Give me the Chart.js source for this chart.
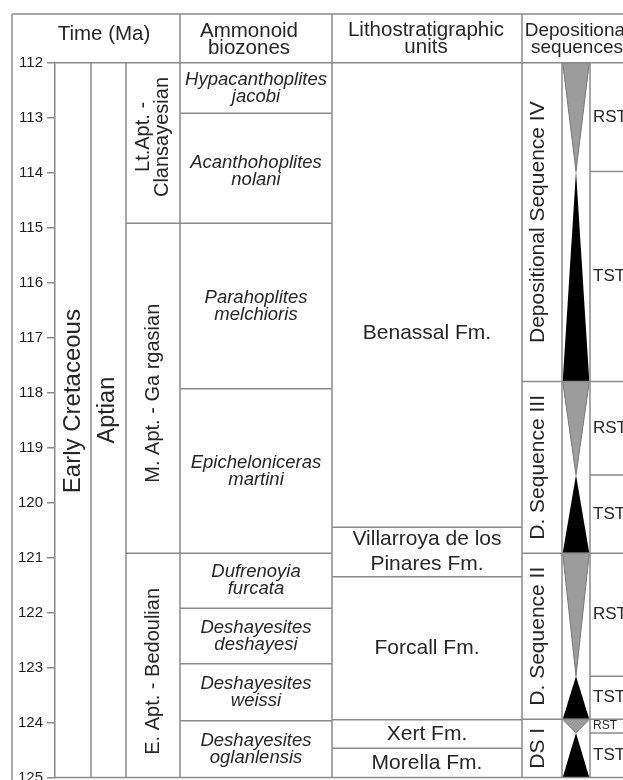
<!DOCTYPE html>
<html>
<head>
<meta charset="utf-8">
<style>
  html, body { margin: 0; padding: 0; background: #fff; }
  #wrap { width: 623px; height: 780px; position: relative; }
</style>
</head>
<body>
<div id="wrap"><canvas id="chart"></canvas></div>
<script src="https://cdn.jsdelivr.net/npm/chart.js@4.4.1/dist/chart.umd.min.js"></script>
<script>
// ---- Time axis (Ma) ----
const timeTicks = [112, 113, 114, 115, 116, 117, 118, 119, 120, 121, 122, 123, 124, 125];
const topAge = 112;

// ---- Chronostratigraphy ----
const eraName = 'Early Cretaceous';
const stageName = 'Aptian';
const substageNames = [['Lt.Apt. -', 'Clansayesian'], ['M. Apt. - Ga rgasian'], ['E. Apt. - Bedoulian']];
const substageBases = [114.92, 120.92, 125];

// ---- Ammonoid biozones ----
const biozoneNames = [
  ['Hypacanthoplites', 'jacobi'],
  ['Acanthohoplites', 'nolani'],
  ['Parahoplites', 'melchioris'],
  ['Epicheloniceras', 'martini'],
  ['Dufrenoyia', 'furcata'],
  ['Deshayesites', 'deshayesi'],
  ['Deshayesites', 'weissi'],
  ['Deshayesites', 'oglanlensis']
];
const biozoneBases = [112.92, 114.92, 117.93, 120.92, 121.92, 122.93, 123.97, 125];

// ---- Lithostratigraphic units ----
const lithoNames = [['Benassal Fm.'], ['Villarroya de los', 'Pinares Fm.'], ['Forcall Fm.'], ['Xert Fm.'], ['Morella Fm.']];
const lithoBases = [120.45, 121.35, 123.95, 124.47, 125];

// ---- Depositional sequences ----
const sequenceNames = ['Depositional Sequence IV', 'D. Sequence III', 'D. Sequence II', 'DS I'];
const sequenceBases = [117.8, 120.92, 123.94, 125];
const maxFloodingAges = [113.98, 119.5, 123.16, 124.19];   // RST above, TST below
const upperTract = ['RST', 'RST', 'RST', 'RST'];
const lowerTract = ['TST', 'TST', 'TST', 'TST'];

// ---- headers ----
const headerTime = ['Time (Ma)'];
const headerBiozones = ['Ammonoid', 'biozones'];
const headerLitho = ['Lithostratigraphic', 'units'];
const headerSeq = ['Depositional', 'sequences'];

// ---------------------------------------------------------------
const FONT = '"Liberation Sans", Arial, Helvetica, sans-serif';
const LINE = '#8a8a8a';
const FRAME = '#a8a8a8';
const INK = '#262626';
const HEADER_TOP = 14;

// column edges in x-scale units (px from the time axis)
const COL = {
  era: [0, 36], stage: [36, 71], substage: [71, 125], biozone: [125, 277],
  litho: [277, 467], seq: [467, 507], wedge: [507, 535], tract: [535, 600]
};

const tops = bases => [topAge, ...bases.slice(0, -1)];

function drawText(ctx, lines, x, y, o) {
  ctx.save();
  ctx.font = o.font;
  ctx.fillStyle = o.color || INK;
  ctx.textAlign = o.align || 'center';
  ctx.textBaseline = o.baseline || 'middle';
  ctx.translate(x, y);
  if (o.rotate) ctx.rotate(-Math.PI / 2);
  const n = lines.length, lh = o.lh || 0;
  lines.forEach((s, i) => ctx.fillText(s, 0, (i - (n - 1) / 2) * lh));
  ctx.restore();
}

function hLine(ctx, x0, x1, yv) {
  ctx.beginPath(); ctx.moveTo(x0, yv); ctx.lineTo(x1, yv); ctx.stroke();
}
function vLine(ctx, xv, y0, y1) {
  ctx.beginPath(); ctx.moveTo(xv, y0); ctx.lineTo(xv, y1); ctx.stroke();
}

const stratPlugin = {
  id: 'strat',
  afterDraw(chart) {
    const { ctx, chartArea: a, scales: { x, y } } = chart;
    const X = v => x.getPixelForValue(v);
    const Y = v => y.getPixelForValue(v);
    const right = a.right;
    const frameLeft = y.left;

    // ---- sequence wedges ----
    const wl = X(COL.wedge[0]) + 0.7, wr = X(COL.wedge[1]) - 0.7, wc = (wl + wr) / 2;
    const seqTops = tops(sequenceBases);
    sequenceBases.forEach((base, i) => {
      const t = Y(seqTops[i]), p = Y(maxFloodingAges[i]), b = Y(base);
      ctx.save();
      ctx.beginPath(); ctx.moveTo(wl, t); ctx.lineTo(wr, t); ctx.lineTo(wc, p); ctx.closePath();
      ctx.fillStyle = '#9c9c9c'; ctx.fill();
      ctx.strokeStyle = '#6e6e6e'; ctx.lineWidth = 0.9; ctx.stroke();
      ctx.beginPath(); ctx.moveTo(wc, p); ctx.lineTo(wr, b); ctx.lineTo(wl, b); ctx.closePath();
      ctx.fillStyle = '#000'; ctx.fill();
      ctx.restore();
    });

    // ---- frame & grid lines ----
    ctx.save();
    ctx.lineCap = 'butt';
    ctx.strokeStyle = FRAME; ctx.lineWidth = 2;
    hLine(ctx, frameLeft, right, HEADER_TOP);
    vLine(ctx, frameLeft, HEADER_TOP, chart.height);

    ctx.strokeStyle = LINE; ctx.lineWidth = 1.5;
    hLine(ctx, a.left, right, Y(timeTicks[0]));
    hLine(ctx, a.left, right, Y(timeTicks[timeTicks.length - 1]));
    [COL.stage[0], COL.substage[0], COL.wedge[0], COL.tract[0]].forEach(c => vLine(ctx, X(c), Y(topAge), Y(125)));
    [COL.biozone[0], COL.litho[0], COL.seq[0]].forEach(c => vLine(ctx, X(c), HEADER_TOP, Y(125)));

    const rows = (bases, c0, c1) => bases.slice(0, -1).forEach(b => hLine(ctx, X(c0), c1 === null ? right : X(c1), Y(b)));
    rows(substageBases, COL.substage[0], COL.substage[1]);
    rows(biozoneBases, COL.biozone[0], COL.biozone[1]);
    rows(lithoBases, COL.litho[0], COL.litho[1]);
    rows(sequenceBases, COL.seq[0], null);
    maxFloodingAges.forEach(m => hLine(ctx, X(COL.tract[0]), right, Y(m)));
    ctx.restore();

    // ---- headers ----
    const hf = `20.5px ${FONT}`;
    drawText(ctx, headerTime, X(49), 40, { font: hf, baseline: 'alphabetic' });
    drawText(ctx, headerBiozones, X(194), 45, { font: hf, baseline: 'alphabetic', lh: 17 });
    drawText(ctx, headerLitho, X(371), 44.5, { font: hf, baseline: 'alphabetic', lh: 17.5 });
    drawText(ctx, headerSeq, X(522), 44.5, { font: `19px ${FONT}`, baseline: 'alphabetic', lh: 17.5 });

    // ---- time columns ----
    const mid = (t, b) => (Y(t) + Y(b)) / 2;
    drawText(ctx, [eraName], X(COL.era[0]) + 25, mid(topAge, 125) - 19,
      { font: `24px ${FONT}`, rotate: true, baseline: 'alphabetic' });
    drawText(ctx, [stageName], X(COL.stage[0]) + 23, mid(topAge, 125) - 10,
      { font: `23.5px ${FONT}`, rotate: true, baseline: 'alphabetic' });
    const subTops = tops(substageBases);
    const subNudge = [-6, 5, 6];
    substageNames.forEach((n, i) => {
      drawText(ctx, n, X(COL.substage[0]) + 32.5, mid(subTops[i], substageBases[i]) + subNudge[i],
        { font: `20px ${FONT}`, rotate: true, baseline: 'alphabetic', lh: 19 });
    });

    // ---- biozones ----
    const bzTops = tops(biozoneBases);
    const bzc = X((COL.biozone[0] + COL.biozone[1]) / 2);
    biozoneNames.forEach((n, i) => {
      drawText(ctx, n, bzc, mid(bzTops[i], biozoneBases[i]) + (i === 1 ? 3 : 0),
        { font: `italic 18.5px ${FONT}`, lh: 17 });
    });

    // ---- lithostratigraphic units ----
    const lTops = tops(lithoBases);
    const lc = X((COL.litho[0] + COL.litho[1]) / 2);
    const lithoNudge = [38, 0, 0, 0, 0];
    lithoNames.forEach((n, i) => {
      drawText(ctx, n, lc, mid(lTops[i], lithoBases[i]) + lithoNudge[i],
        { font: `21px ${FONT}`, lh: 25 });
    });

    // ---- depositional sequences ----
    sequenceNames.forEach((n, i) => {
      drawText(ctx, [n], X(COL.seq[0]) + 22, mid(seqTops[i], sequenceBases[i]),
        { font: `21px ${FONT}`, rotate: true, baseline: 'alphabetic' });
      const small = (maxFloodingAges[i] - seqTops[i]) < 0.5;
      drawText(ctx, [upperTract[i]], X(COL.tract[0]) + 3, mid(seqTops[i], maxFloodingAges[i]),
        { font: `${small ? 12 : 17}px ${FONT}`, align: 'left' });
      drawText(ctx, [lowerTract[i]], X(COL.tract[0]) + 3, mid(maxFloodingAges[i], sequenceBases[i]),
        { font: `17px ${FONT}`, align: 'left' });
    });
  }
};

new Chart(document.getElementById('chart'), {
  type: 'scatter',
  data: { datasets: [] },
  options: {
    responsive: true,
    maintainAspectRatio: false,
    animation: false,
    events: [],
    layout: { autoPadding: false, padding: { left: 12, top: 62.7, right: 0, bottom: 2.5 } },
    plugins: { legend: { display: false }, tooltip: { enabled: false } },
    scales: {
      x: { type: 'linear', min: 0, max: 568, display: false },
      y: {
        type: 'linear', min: timeTicks[0], max: timeTicks[timeTicks.length - 1], reverse: true,
        afterFit: s => { s.width = 43; s.paddingTop = 0; s.paddingBottom = 0; },
        afterBuildTicks: s => { s.ticks = timeTicks.map(v => ({ value: v })); },
        border: { display: true, color: LINE, width: 1.5 },
        grid: { drawOnChartArea: false, drawTicks: true, tickLength: 8, color: LINE, lineWidth: 1.5 },
        ticks: { autoSkip: false, padding: 4, color: '#1e1e1e', font: { family: FONT, size: 15 },
                 callback: v => String(v) }
      }
    }
  },
  plugins: [stratPlugin]
});
</script>
</body>
</html>
